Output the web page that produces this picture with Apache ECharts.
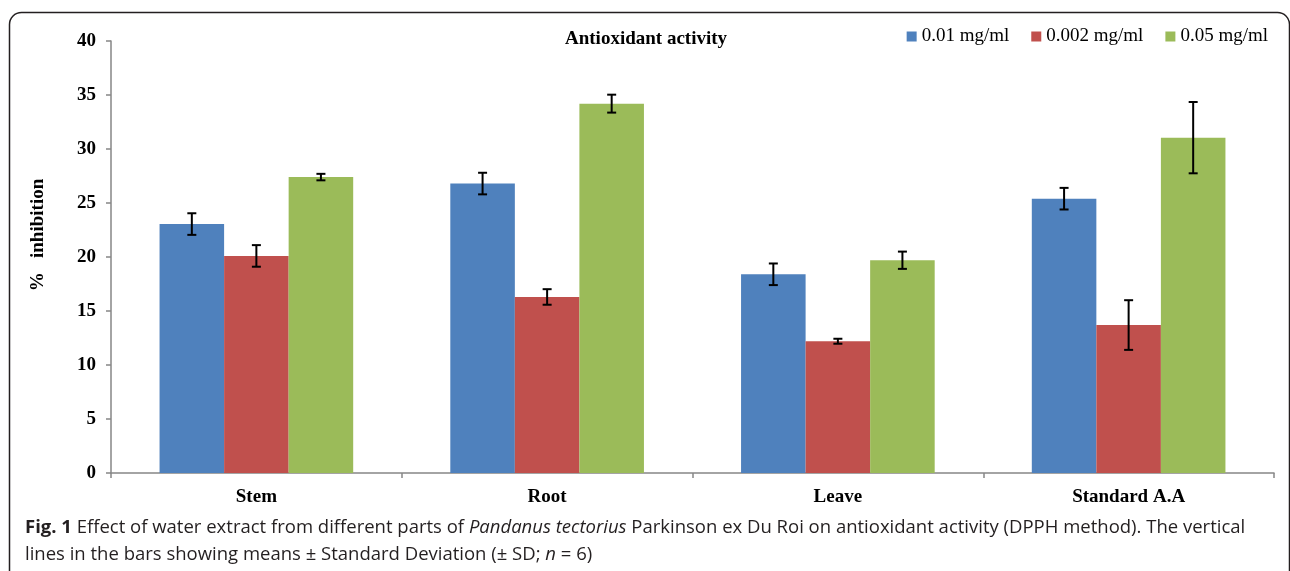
<!DOCTYPE html>
<html>
<head>
<meta charset="utf-8">
<title>Antioxidant activity</title>
<script src="https://cdn.jsdelivr.net/npm/echarts@6/dist/echarts.min.js"></script>
<style>
  html, body { margin: 0; padding: 0; background: #fff; }
  #main { width: 1290px; height: 571px; }
</style>
</head>
<body>
<div id="main"></div>
<script>
var categories = ['Stem', 'Root', 'Leave', 'Standard A.A'];
var seriesNames = ['0.01 mg/ml', '0.002 mg/ml', '0.05 mg/ml'];
var conc001 = [23.05, 26.8, 18.4, 25.4];
var conc0002 = [20.1, 16.3, 12.2, 13.7];
var conc005 = [27.4, 34.2, 19.7, 31.05];
var sd001 = [1.0, 1.0, 1.0, 1.0];
var sd0002 = [1.0, 0.72, 0.23, 2.3];
var sd005 = [0.3, 0.83, 0.8, 3.3];
var yTicks = [0, 5, 10, 15, 20, 25, 30, 35, 40];

var colors = ['#4F81BD', '#C0504D', '#9BBB59'];
var serif = '"Liberation Serif", "Times New Roman", serif';
var sans = '"Open Sans", sans-serif';
var catGap = 0.334;

// error bar for series idx: [category, mean, sd]
var errData = function (idx, means, sds) {
    var res = [];
    for (var i = 0; i < means.length; i++) {
        res.push([i, means[i], sds[i], idx]);
    }
    return res;
};

var renderErr = function (params, api) {
    var cat = api.value(0);
    var mean = api.value(1);
    var sd = api.value(2);
    var idx = api.value(3);
    var band = api.size([1, 0])[0];
    var barW = band * (1 - catGap) / 3;
    var center = api.coord([cat, mean]);
    var x = center[0] + (idx - 1) * barW;
    var top = api.coord([cat, mean + sd])[1];
    var bot = api.coord([cat, mean - sd])[1];
    var half = 4.5;
    var st = { stroke: '#000', lineWidth: 2 };
    return {
        type: 'group',
        children: [
            { type: 'line', shape: { x1: x, y1: top, x2: x, y2: bot }, style: st },
            { type: 'line', shape: { x1: x - half, y1: top, x2: x + half, y2: top }, style: st },
            { type: 'line', shape: { x1: x - half, y1: bot, x2: x + half, y2: bot }, style: st }
        ]
    };
};

var barSeries = function (name, data, color) {
    return {
        name: name,
        type: 'bar',
        data: data,
        barGap: 0,
        barCategoryGap: (catGap * 100) + '%',
        itemStyle: { color: color },
        emphasis: { disabled: true }
    };
};

var errSeries = function (idx, means, sds) {
    return {
        type: 'custom',
        renderItem: renderErr,
        data: errData(idx, means, sds),
        encode: { x: 0, y: 1 },
        z: 5,
        silent: true
    };
};

var option = {
    backgroundColor: '#fff',
    animation: false,
    title: [
        {
            text: 'Antioxidant activity',
            left: 565,
            top: 30,
            padding: 0,
            textStyle: { fontFamily: serif, fontSize: 19, fontWeight: 'bold', color: '#000' }
        },
        {
            text: '{b|Fig. 1} Effect of water extract from different parts of {i|Pandanus tectorius} Parkinson ex Du Roi on antioxidant activity (DPPH method). The vertical\nlines in the bars showing means ± Standard Deviation (± SD; {i|n} = 6)',
            left: 25,
            top: 514,
            padding: 0,
            textStyle: {
                fontFamily: sans,
                fontSize: 18.5,
                fontWeight: 'normal',
                color: '#231f20',
                lineHeight: 27,
                rich: {
                    b: { fontFamily: sans, fontSize: 18.5, fontWeight: 'bold', color: '#231f20', lineHeight: 27 },
                    i: { fontFamily: sans, fontSize: 18.5, fontStyle: 'italic', color: '#231f20', lineHeight: 27 }
                }
            }
        }
    ],
    legend: {
        data: seriesNames,
        right: 22,
        top: 27,
        padding: 0,
        itemWidth: 10,
        itemHeight: 10,
        itemGap: 22,
        icon: 'rect',
        textStyle: { fontFamily: serif, fontSize: 19, color: '#000' }
    },
    grid: { left: 111, right: 16, top: 41, bottom: 98 },
    xAxis: {
        type: 'category',
        data: categories,
        axisLine: { lineStyle: { color: '#868686', width: 1.5 } },
        axisTick: { show: true, length: 5, lineStyle: { color: '#868686', width: 1.5 } },
        axisLabel: { fontFamily: serif, fontSize: 19, fontWeight: 'bold', color: '#000', margin: 15 }
    },
    yAxis: {
        type: 'value',
        min: yTicks[0],
        max: yTicks[yTicks.length - 1],
        interval: 5,
        axisLine: { show: true, lineStyle: { color: '#868686', width: 1.5 } },
        axisTick: { show: true, length: 5, lineStyle: { color: '#868686', width: 1.5 } },
        splitLine: { show: false },
        axisLabel: { fontFamily: serif, fontSize: 19, fontWeight: 'bold', color: '#000', margin: 15 }
    },
    graphic: [
        {
            type: 'rect',
            shape: { x: 9.5, y: 12.5, width: 1280, height: 700, r: 12 },
            style: { fill: 'none', stroke: '#231f20', lineWidth: 1.5 },
            silent: true
        },
        {
            type: 'text',
            x: 38,
            y: 235,
            rotation: Math.PI / 2,
            style: {
                text: '%   inhibition',
                font: 'bold 19px ' + serif,
                fill: '#000',
                textAlign: 'center',
                textVerticalAlign: 'middle'
            },
            silent: true
        }
    ],
    series: [
        barSeries(seriesNames[0], conc001, colors[0]),
        barSeries(seriesNames[1], conc0002, colors[1]),
        barSeries(seriesNames[2], conc005, colors[2]),
        errSeries(0, conc001, sd001),
        errSeries(1, conc0002, sd0002),
        errSeries(2, conc005, sd005)
    ]
};

var myChart = echarts.init(document.getElementById('main'));
myChart.setOption(option);
</script>
</body>
</html>
